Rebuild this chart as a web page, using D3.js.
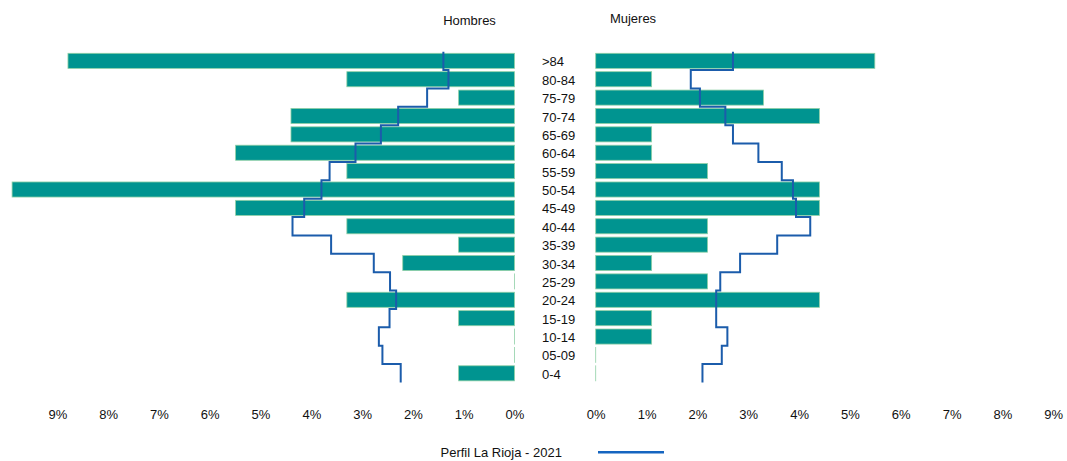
<!DOCTYPE html>
<html>
<head>
<meta charset="utf-8">
<script src="https://cdn.jsdelivr.net/npm/d3@7"></script>
<style>
  html, body { margin: 0; padding: 0; background: #ffffff; }
  svg { display: block; font-family: "Liberation Sans", Arial, sans-serif; }
</style>
</head>
<body>
<svg id="chart" width="1067" height="461"></svg>
<script>
// ---- data ----
const categories = [">84","80-84","75-79","70-74","65-69","60-64","55-59","50-54","45-49","40-44","35-39","30-34","25-29","20-24","15-19","10-14","05-09","0-4"];
const hombres = [8.79,3.30,1.10,4.40,4.40,5.49,3.30,9.89,5.49,3.30,1.10,2.20,0,3.30,1.10,0,0,1.10];
const mujeres = [5.49,1.10,3.30,4.40,1.10,1.10,2.20,4.40,4.40,2.20,2.20,1.10,2.20,4.40,1.10,1.10,0,0];
const perfilHombres = [1.40,1.30,1.72,2.29,2.63,3.13,3.64,3.80,4.14,4.37,3.61,2.77,2.45,2.33,2.46,2.67,2.60,2.24];
const perfilMujeres = [2.70,1.87,2.05,2.55,2.70,3.20,3.66,3.88,3.94,4.22,3.57,2.84,2.45,2.37,2.37,2.59,2.48,2.10];
const tickValues = [0,1,2,3,4,5,6,7,8,9];
const legendLabel = "Perfil La Rioja - 2021";

const barFill = "#009490";
const barStroke = "#8fd0a6";
const lineColor = "#1b5cab";

const svg = d3.select("#chart");

const pIn = 0.18;
const y = d3.scaleBand().domain(categories).range([51.65, 382.5]).paddingInner(pIn).paddingOuter(0.09);
const xL = d3.scaleLinear().domain([0, 9]).range([514.5, 514.5 - 9 * 50.8]);
const xR = d3.scaleLinear().domain([0, 9]).range([595.7, 595.7 + 9 * 50.84]);

// bars (zero values still show a hairline like the original)
svg.append("g").selectAll("rect").data(categories).join("rect")
  .attr("x", (d, i) => xL(hombres[i]))
  .attr("y", d => y(d))
  .attr("width", (d, i) => Math.max(0.01, xL(0) - xL(hombres[i])))
  .attr("height", y.bandwidth())
  .attr("fill", barFill).attr("stroke", barStroke).attr("stroke-width", 0.8);

svg.append("g").selectAll("rect").data(categories).join("rect")
  .attr("x", xR(0))
  .attr("y", d => y(d))
  .attr("width", (d, i) => Math.max(0.01, xR(mujeres[i]) - xR(0)))
  .attr("height", y.bandwidth())
  .attr("fill", barFill).attr("stroke", barStroke).attr("stroke-width", 0.8);

// step profile lines
const half = y.step() * pIn / 2;
function stepPoints(vals, x) {
  const pts = [];
  categories.forEach((c, i) => {
    pts.push([x(vals[i]), y(c) - half]);
    pts.push([x(vals[i]), y(c) + y.bandwidth() + half]);
  });
  return pts;
}
const line = d3.line();
svg.append("path").attr("d", line(stepPoints(perfilHombres, xL)))
  .attr("fill", "none").attr("stroke", lineColor).attr("stroke-width", 2);
svg.append("path").attr("d", line(stepPoints(perfilMujeres, xR)))
  .attr("fill", "none").attr("stroke", lineColor).attr("stroke-width", 2);

// category labels
svg.append("g").selectAll("text").data(categories).join("text")
  .attr("x", 542)
  .attr("y", d => y(d) + y.bandwidth() / 2 + 1)
  .attr("dy", "0.35em")
  .attr("font-size", 13).attr("fill", "#111")
  .text(d => d);

// axes
const fmt = d => d + "%";
const axL = svg.append("g").attr("transform", "translate(0,400)")
  .call(d3.axisBottom(xL).tickValues(tickValues).tickFormat(fmt).tickSize(0).tickPadding(10));
const axR = svg.append("g").attr("transform", "translate(0,400)")
  .call(d3.axisBottom(xR).tickValues(tickValues).tickFormat(fmt).tickSize(0).tickPadding(10));
[axL, axR].forEach(a => {
  a.select(".domain").remove();
  a.selectAll("text").attr("font-size", 13).attr("fill", "#111").attr("font-family", "Liberation Sans, Arial, sans-serif");
});

// titles
svg.append("text").attr("x", 469.5).attr("y", 25).attr("text-anchor", "middle")
  .attr("font-size", 13).attr("fill", "#111").text("Hombres");
svg.append("text").attr("x", 633).attr("y", 23).attr("text-anchor", "middle")
  .attr("font-size", 13).attr("fill", "#111").text("Mujeres");

// legend
svg.append("text").attr("x", 440.5).attr("y", 457)
  .attr("font-size", 13).attr("fill", "#111").text(legendLabel);
svg.append("line").attr("x1", 598).attr("x2", 664).attr("y1", 452.3).attr("y2", 452.3)
  .attr("stroke", "#1565c0").attr("stroke-width", 2.5);
</script>
</body>
</html>
